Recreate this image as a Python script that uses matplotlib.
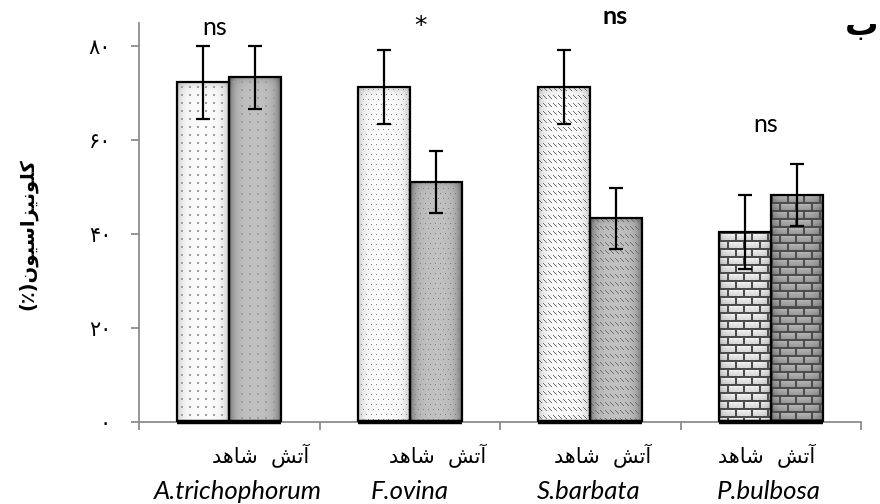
import numpy as np
import matplotlib
matplotlib.use("Agg")
import matplotlib.pyplot as plt
from matplotlib.transforms import blended_transform_factory

# data
species = ["A.trichophorum", "F.ovina", "S.barbata", "P.bulbosa"]
left_vals = [72.3, 71.2, 71.2, 40.4]     # شاهد
right_vals = [73.3, 51.1, 43.3, 48.3]    # آتش
left_err = [7.8, 7.9, 7.9, 7.8]
right_err = [6.6, 6.6, 6.5, 6.7]
patterns = ["dots", "dense", "dash", "brick"]
y_ticks = [0, 20, 40, 60, 80]
y_ticklabels = ["۰", "۲۰", "۴۰", "۶۰", "۸۰"]
group_label = "آتش  شاهد"
y_label = "کلونیزاسیون(٪)"
signif = ["ns", "*", "ns", "ns"]

# minimal arabic shaping (matplotlib has no complex text layout)
FORMS = {
    "آ": ("\uFE81", "\uFE82", None, None),
    "ا": ("\uFE8D", "\uFE8E", None, None),
    "ب": ("\uFE8F", "\uFE90", "\uFE91", "\uFE92"),
    "ت": ("\uFE95", "\uFE96", "\uFE97", "\uFE98"),
    "د": ("\uFEA9", "\uFEAA", None, None),
    "ز": ("\uFEAF", "\uFEB0", None, None),
    "س": ("\uFEB1", "\uFEB2", "\uFEB3", "\uFEB4"),
    "ش": ("\uFEB5", "\uFEB6", "\uFEB7", "\uFEB8"),
    "ل": ("\uFEDD", "\uFEDE", "\uFEDF", "\uFEE0"),
    "ن": ("\uFEE5", "\uFEE6", "\uFEE7", "\uFEE8"),
    "ه": ("\uFEE9", "\uFEEA", "\uFEEB", "\uFEEC"),
    "و": ("\uFEED", "\uFEEE", None, None),
    "ی": ("\uFBFC", "\uFBFD", "\uFBFE", "\uFBFF"),
    "ک": ("\uFB8E", "\uFB8F", "\uFB90", "\uFB91"),
}
MIRROR = {"(": ")", ")": "("}


def shape(text):
    out = []
    for i, ch in enumerate(text):
        if ch not in FORMS:
            out.append(MIRROR.get(ch, ch))
            continue
        prev = text[i - 1] if i > 0 else None
        nxt = text[i + 1] if i + 1 < len(text) else None
        iso, fin, ini, med = FORMS[ch]
        jp = prev in FORMS and FORMS[prev][2] is not None
        jn = nxt in FORMS and ini is not None
        if jp and jn:
            out.append(med)
        elif jp:
            out.append(fin)
        elif jn:
            out.append(ini)
        else:
            out.append(iso)
    return "".join(reversed(out))


def texture(kind, dark, w, h):
    yy, xx = np.mgrid[0:h, 0:w]
    base = 0.76 if dark else 0.99
    d = np.minimum(xx, w - 1 - xx)
    g = base - (0.32 if dark else 0.2) * np.exp(-d / 5.0) - 0.14 * np.exp(-yy / 4.0)
    if kind == "dots":
        m = (xx % 8 >= 4) & (xx % 8 < 6) & (yy % 8 >= 4) & (yy % 8 < 6)
        g = np.where(m, 0.62, g)
    elif kind == "dense":
        off = ((yy // 5) % 2) * 2
        m = ((xx + off) % 5 == 0) & (yy % 5 == 2)
        g = np.where(m, 0.5, g)
    elif kind == "dash":
        row = yy % 8
        m = (row < 4) & (((xx - row) % 5) == 0)
        g = np.where(m, 0.42, g)
    elif kind == "brick":
        row = yy // 8
        off = (row % 2) * 8
        mortar = (yy % 8 < 2) | (((xx + off) % 16) < 2)
        brick = (0.74 if dark else 0.98) - 0.15 * (yy % 8) / 8.0
        brick = brick - (0.2 if dark else 0.15) * np.exp(-d / 5.0)
        g = np.where(mortar, 0.3, brick)
    g = np.clip(g, 0, 1)
    return np.dstack([g, g, g])


fig = plt.figure(figsize=(8.8, 5.04), dpi=100)
ax = fig.add_axes([139 / 880, 82 / 504, 722 / 880, 399.5 / 504])
ax.set_xlim(-0.5, 3.5)
ax.set_ylim(0, 85)

x = np.arange(len(species))
bw = 0.288
bars_l = ax.bar(x - bw / 2, left_vals, bw, facecolor="white", edgecolor="black", lw=1.6, zorder=3)
bars_r = ax.bar(x + bw / 2, right_vals, bw, facecolor="#bbbbbb", edgecolor="black", lw=1.6, zorder=3)

for bars, dark in ((bars_l, False), (bars_r, True)):
    for b, kind in zip(bars, patterns):
        x0, y0 = b.get_x(), b.get_y()
        x1, y1 = x0 + b.get_width(), y0 + b.get_height()
        p0 = ax.transData.transform((x0, y0))
        p1 = ax.transData.transform((x1, y1))
        w = max(int(round(p1[0] - p0[0])), 2)
        h = max(int(round(p1[1] - p0[1])), 2)
        im = ax.imshow(texture(kind, dark, w, h), extent=[x0, x1, y0, y1], origin="upper",
                       interpolation="nearest", aspect="auto", zorder=2.5)
        im.set_clip_path(b)
        b.set_facecolor("none")
        ax.plot([x0, x1], [0, 0], color="black", lw=3.2, solid_capstyle="butt", zorder=4, clip_on=False)

ax.errorbar(x - bw / 2, left_vals, yerr=left_err, fmt="none", ecolor="black", elinewidth=1.6,
            capsize=5, capthick=1.6, zorder=5)
ax.errorbar(x + bw / 2, right_vals, yerr=right_err, fmt="none", ecolor="black", elinewidth=1.6,
            capsize=5, capthick=1.6, zorder=5)
ax.set_xlim(-0.5, 3.5)
ax.set_ylim(0, 85)

for s in ("top", "right"):
    ax.spines[s].set_visible(False)
for s in ("left", "bottom"):
    ax.spines[s].set_color("#8c8c8c")
    ax.spines[s].set_linewidth(1.3)

ax.set_yticks(y_ticks)
ax.set_yticklabels(y_ticklabels, fontsize=15, family="DejaVu Sans")
ax.tick_params(axis="y", length=6, width=1.3, color="#8c8c8c", pad=14)
ax.set_xticks([-0.5, 0.5, 1.5, 2.5, 3.5])
ax.set_xticklabels([])
ax.tick_params(axis="x", length=6, width=1.3, color="#8c8c8c")

trans = blended_transform_factory(ax.transData, ax.transAxes)
ar_x = [0.176, 1.157, 2.071, 2.979]
sp_x = [0.048, 1.001, 1.993, 2.990]
for i in range(len(species)):
    ax.text(ar_x[i], -0.085, shape(group_label), transform=trans, ha="center", va="center",
            fontsize=15, family="DejaVu Sans")
    ax.text(sp_x[i], -0.175, species[i], transform=trans, ha="center", va="center",
            fontsize=18.5, family="Lato", style="italic")

ax.text(-0.079, 84.0, signif[0], ha="center", va="center", fontsize=18, family="Lato", clip_on=False)
ax.text(1.057, 84.3, signif[1], ha="center", va="center", fontsize=18, family="DejaVu Sans",
        clip_on=False)
ax.text(2.137, 86.2, signif[2], ha="center", va="center", fontsize=18, family="Lato",
        weight="bold", clip_on=False)
ax.text(2.974, 63.2, signif[3], ha="center", va="center", fontsize=18, family="Lato", clip_on=False)

fig.text(28 / 880, 1 - 234 / 504, shape(y_label), rotation=90, ha="center", va="center",
         fontsize=14, weight="bold", family="DejaVu Sans")
fig.text(878 / 880, 1 - 25 / 504, shape("ب"), ha="right", va="center", fontsize=24,
         weight="bold", family="DejaVu Sans")

fig.savefig("out.png", dpi=100)
